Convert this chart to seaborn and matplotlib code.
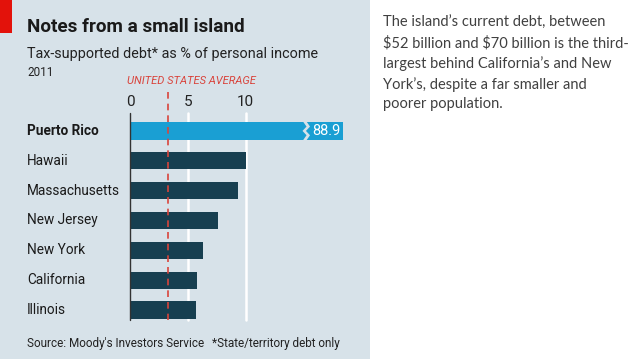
import numpy as np
import pandas as pd
import matplotlib
matplotlib.use('Agg')
import matplotlib.pyplot as plt
import matplotlib.transforms as mtransforms
import seaborn as sns
from matplotlib.patches import Rectangle, Polygon

# data
states = ['Puerto Rico', 'Hawaii', 'Massachusetts', 'New Jersey',
          'New York', 'California', 'Illinois']
debt_pct = [88.9, 10.0, 9.3, 7.6, 6.3, 5.8, 5.7]
us_average = 3.3
x_ticks = [0, 5, 10]
axis_cap = 18.4   # where the broken Puerto Rico bar is cut off

title = 'Notes from a small island'
subtitle = 'Tax-supported debt* as % of personal income'
year = '2011'
source = "Source: Moody's Investors Service"
footnote = '*State/territory debt only'
side_text = ("The island\u2019s current debt, between\n"
             "$52 billion and $70 billion is the third-\n"
             "largest behind California\u2019s and New\n"
             "York\u2019s, despite a far smaller and\n"
             "poorer population.")

PANEL = '#d7e2e9'
DARK = '#173f50'
CYAN = '#1a9fd3'
RED = '#d9443c'

sns.set_style('white')
plt.rcParams['font.family'] = ['Roboto', 'DejaVu Sans']

W, H = 638, 359
fig = plt.figure(figsize=(W / 100, H / 100), dpi=100)
fig.patch.set_facecolor('white')

def fx(px):
    return px / W

def fy(py):
    return 1 - py / H

# chart panel + red tab
fig.patches.append(Rectangle((0, 0), fx(370), 1, transform=fig.transFigure,
                             facecolor=PANEL, edgecolor='none', zorder=-10))
fig.patches.append(Rectangle((0, fy(33)), fx(12), 1 - fy(33), transform=fig.transFigure,
                             facecolor='#e3120b', edgecolor='none', zorder=-9))

ax = fig.add_axes([fx(130), fy(322), fx(343) - fx(130), fy(113) - fy(322)])
ax.set_facecolor('none')

df = pd.DataFrame({'state': states, 'debt': debt_pct})
df['shown'] = df['debt'].clip(upper=axis_cap)
colors = [CYAN] + [DARK] * (len(states) - 1)
sns.barplot(data=df, x='shown', y='state', hue='state', palette=colors,
            legend=False, width=0.58, orient='h', ax=ax, zorder=3,
            edgecolor='none', saturation=1)

ax.set_xlim(0, axis_cap)
ax.set_ylim(len(states) - 0.6, -0.6)
for s in ax.spines.values():
    s.set_visible(False)
y_bottom = len(states) - 0.67
ax.plot([0, 0], [-0.6, y_bottom], color='#333333', lw=1.0, zorder=4, clip_on=False)
for t in x_ticks[1:]:
    ax.plot([t, t], [-0.6, y_bottom], color='white', lw=1.8, zorder=2, clip_on=False)
ax.plot([us_average, us_average], [-1.3, y_bottom], color=RED, lw=1.2,
        ls=(0, (4, 3)), zorder=5, clip_on=False)

ax.xaxis.tick_top()
ax.set_xticks(x_ticks)
ax.set_xticklabels([str(t) for t in x_ticks])
ax.tick_params(axis='x', length=0, pad=3, labelsize=11, colors='#222222')
ax.set_yticks(range(len(states)))
ax.set_yticklabels([])
ax.tick_params(axis='y', length=0)
ax.set_xlabel('')
ax.set_ylabel('')

# state labels
trans = mtransforms.blended_transform_factory(fig.transFigure, ax.transData)
for i, name in enumerate(states):
    ax.text(fx(27), i, name, transform=trans, ha='left', va='center',
            fontsize=9.8, color='#1a1a1a',
            fontweight='bold' if i == 0 else 'normal')

# break in the Puerto Rico bar
bh = 0.58 / 2
zx = 14.9
pts = [(zx, -bh - 0.05), (zx + 0.35, -bh * 0.5), (zx, 0), (zx + 0.35, bh * 0.5),
       (zx, bh + 0.05), (zx + 0.3, bh + 0.05), (zx + 0.65, bh * 0.5),
       (zx + 0.3, 0), (zx + 0.65, -bh * 0.5), (zx + 0.3, -bh - 0.05)]
ax.add_patch(Polygon(pts, closed=True, facecolor=PANEL, edgecolor='none', zorder=6))
ax.text(axis_cap - 0.25, 0, f'{debt_pct[0]:.1f}', ha='right', va='center',
        fontsize=10.5, color='white', zorder=7)

# texts
fig.text(fx(27), fy(27), title, fontsize=13.6, fontweight='bold', color='#1a1a1a',
         va='center', ha='left')
fig.text(fx(27), fy(54), subtitle, fontsize=10.4, color='#222222', va='center', ha='left')
fig.text(fx(27), fy(72), year, fontsize=8.5, color='#222222', va='center', ha='left')
fig.text(fx(127), fy(81), 'UNITED STATES AVERAGE', fontsize=8, style='italic',
         color=RED, va='center', ha='left')
fig.text(fx(27), fy(343), source, fontsize=8.5, color='#222222', va='center', ha='left')
fig.text(fx(212), fy(343), footnote, fontsize=8.5, color='#222222', va='center', ha='left')

fig.text(fx(383), fy(16), side_text, fontsize=10.5, color='#404040', va='top', ha='left',
         linespacing=1.5, family=['Lato', 'DejaVu Sans'], parse_math=False)

fig.savefig('out.png', dpi=100)
